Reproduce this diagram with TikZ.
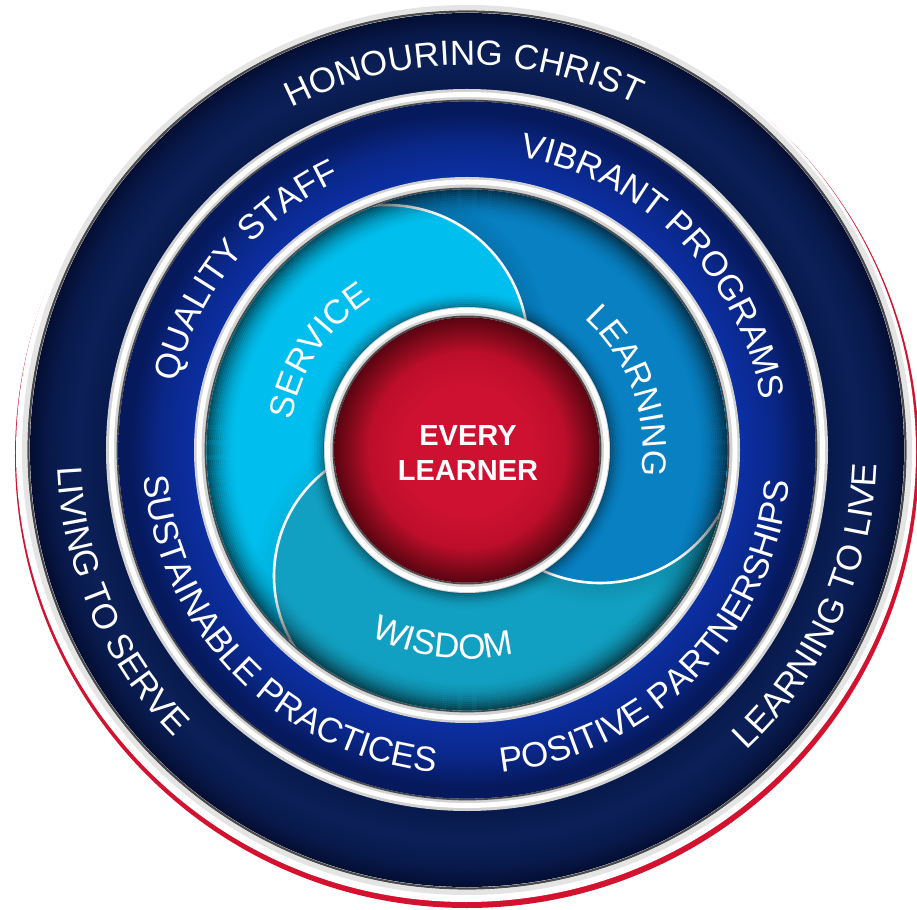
\documentclass[tikz,border=0pt]{standalone}
\usepackage{fontspec}
\setmainfont{Liberation Sans}
\usetikzlibrary{decorations.text}
\definecolor{navyIn}{HTML}{081A4C}
\definecolor{navyMid}{HTML}{0C2058}
\definecolor{navyOut}{HTML}{040E33}
\definecolor{royIn}{HTML}{0B2EA0}
\definecolor{royMid}{HTML}{0A288A}
\definecolor{royOut}{HTML}{06195C}
\definecolor{redIn}{HTML}{CE1131}
\definecolor{redMid}{HTML}{BC0E2B}
\definecolor{redDark}{HTML}{7E0919}
\definecolor{redOut}{HTML}{5A0412}
\definecolor{svc}{HTML}{00BFEE}
\definecolor{lrn}{HTML}{0880C2}
\definecolor{wis}{HTML}{12A0C2}
\definecolor{rimred}{HTML}{D2122E}
\definecolor{sepgray}{HTML}{D2D2D2}
\definecolor{sepdark}{HTML}{4A4A4A}
\definecolor{ringlight}{HTML}{E4E4E4}
% in TikZ, 25bp of a radial shading reaches the rim of the shaded circle
\pgfdeclareradialshading{navyshade}{\pgfpointorigin}{color(0bp)=(navyIn); color(20.7bp)=(navyIn); color(22.3bp)=(navyMid); color(23.8bp)=(navyIn); color(25bp)=(navyOut); color(50bp)=(navyOut)}
\pgfdeclareradialshading{royalshade}{\pgfpointorigin}{color(0bp)=(royIn); color(19.8bp)=(royIn); color(22bp)=(royMid); color(24.2bp)=(royOut); color(25bp)=(royOut); color(50bp)=(royOut)}
\pgfdeclareradialshading{redshade}{\pgfpointorigin}{color(0bp)=(redIn); color(12bp)=(redIn); color(18.5bp)=(redMid); color(22.5bp)=(redDark); color(25bp)=(redOut); color(50bp)=(redOut)}
\tikzset{
  whitearc/.style={white, line width=2.6pt},
  sepline/.style={sepdark, line width=1.7pt},
}
\newcommand{\ringlabel}[5]{%
  \path[decorate, decoration={text along path, text align=center,
    text={|\fontsize{#4}{#4}\selectfont\color{white}|#5}}]
    (#2:#1pt) arc[start angle=#2, end angle=#3, radius=#1pt];}
\begin{document}
\begin{tikzpicture}[x=1pt,y=1pt]
\useasboundingbox (-467,-459) rectangle (450,450);
\fill[white] (-467,-459) rectangle (450,450);
% outer rim
\fill[rimred] (0,-6) circle (452pt);
\fill[white] (-1,-2) circle (450pt);
\draw[ringlight, line width=5pt] (0,0) circle (442.5pt);
\draw[sepline, line width=2.2pt] (0,0) circle (438.5pt);
\shade[shading=navyshade] (0,0) circle (437pt);
% separator navy / royal
\fill[sepgray, even odd rule] (0,0) circle (361pt) circle (347pt);
\draw[white, line width=5pt] (0,0) circle (355.5pt);
\draw[sepline] (0,0) circle (349.5pt);
\shade[shading=royalshade] (0,0) circle (348.6pt);
% separator royal / inner disk
\fill[sepgray, even odd rule] (0,0) circle (273pt) circle (259pt);
\draw[white, line width=5pt] (0,0) circle (268pt);
\draw[sepline] (0,0) circle (261.5pt);
% inner lobes
\begin{scope}
\clip (0,0) circle (260.6pt);
\fill[svc] (0,0) -- (127.6:300pt) arc[start angle=127.6, end angle=244.5, radius=300pt] -- cycle;
\fill[wis] (0,0) -- (244.5:300pt) arc[start angle=244.5, end angle=358, radius=300pt] -- cycle;
\fill[lrn] (0,0) -- (-2:300pt) arc[start angle=-2, end angle=127.6, radius=300pt] -- cycle;
\fill[svc] (-80,104) circle (141pt);
\fill[wis] (-60,-126) circle (133pt);
\fill[lrn] (133,5) circle (138pt);
% shadows under the overlapping edges
\foreach \k in {1,...,10}{%
  \pgfmathsetmacro\op{0.09*(1-\k/11)}%
  \pgfmathsetmacro\rr{141+2*\k}%
  \draw[black, opacity=\op, line width=2.1pt] (-80,104) ++(0:\rr pt) arc[start angle=0, end angle=100, radius=\rr pt];
  \pgfmathsetmacro\rl{138+2*\k}%
  \draw[black, opacity=\op, line width=2.1pt] (133,5) ++(235:\rl pt) arc[start angle=235, end angle=335, radius=\rl pt];
  \pgfmathsetmacro\rw{133+2*\k}%
  \draw[black, opacity=\op*0.6, line width=2.1pt] (-60,-126) ++(120:\rw pt) arc[start angle=120, end angle=215, radius=\rw pt];
}
% visible edges
\draw[whitearc] (-80,104) ++(0:141pt) arc[start angle=0, end angle=100, radius=141pt];
\draw[whitearc] (133,5) ++(235:138pt) arc[start angle=235, end angle=335, radius=138pt];
\draw[whitearc] (-60,-126) ++(120:133pt) arc[start angle=120, end angle=215, radius=133pt];
% vignette
\foreach \k in {0,...,14}{%
  \pgfmathsetmacro\op{0.55*(1-\k/15)^2}%
  \pgfmathsetmacro\rr{259.5-2*\k}%
  \draw[black, opacity=\op, line width=2.1pt] (0,0) circle (\rr pt);
}
% shadow of the centre
\foreach \k in {0,...,9}{%
  \pgfmathsetmacro\op{0.35*(1-\k/10)^2}%
  \pgfmathsetmacro\rr{143+1.8*\k}%
  \draw[black, opacity=\op, line width=2pt] (0,0) circle (\rr pt);
}
\end{scope}
% centre
\fill[sepgray] (0,0) circle (143pt);
\draw[white, line width=5pt] (0,0) circle (139.5pt);
\draw[sepline] (0,0) circle (133.6pt);
\shade[shading=redshade] (0,0) circle (132.7pt);
\node[font=\bfseries\fontsize{29}{35}\selectfont, text=white, align=center, inner sep=0pt] (core) at (1,-3.5) {EVERY\\LEARNER};
% ring texts
\ringlabel{385}{150.5}{30.5}{35}{HONOURING CHRIST}
\ringlabel{410}{143.5}{263.5}{35}{LIVING TO SERVE}
\ringlabel{410}{275.5}{395.5}{35}{LEARNING TO LIVE}
\ringlabel{298}{201}{81}{35}{QUALITY STAFF}
\ringlabel{298}{104.7}{-15.3}{35}{VIBRANT PROGRAMS}
\ringlabel{324}{164.5}{284.5}{35}{SUSTAINABLE PRACTICES}
\ringlabel{324}{255.3}{375.3}{35}{POSITIVE PARTNERSHIPS}
\ringlabel{178}{206.4}{86.4}{34}{SERVICE}
\ringlabel{176}{80}{-40}{34}{LEARNING}
\ringlabel{209}{202.9}{322.9}{35}{WISDOM}
\end{tikzpicture}
\end{document}
